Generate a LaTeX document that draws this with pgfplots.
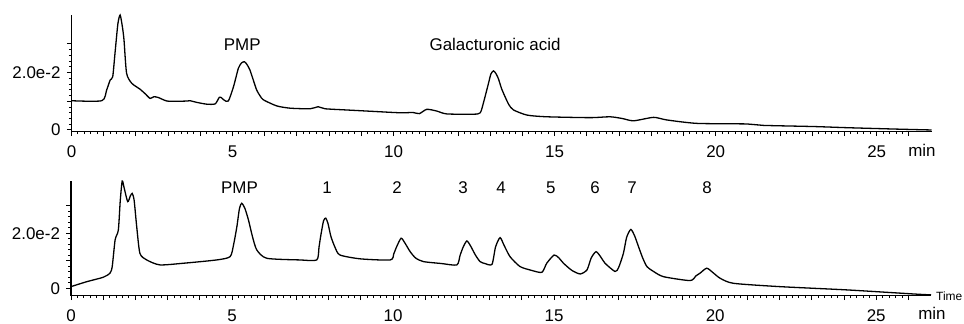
\documentclass[border=0pt]{standalone}
\usepackage{pgfplots}
\pgfplotsset{compat=1.18}
\usepackage{fontspec}
\setmainfont{Liberation Sans}

\pgfplotstableread{
t v
0 0.0102
0.94 0.0102
1.09 0.0139
1.20 0.0174
1.28 0.0186
1.35 0.0267
1.44 0.0370
1.51 0.0401
1.58 0.0360
1.63 0.0314
1.71 0.0198
1.87 0.0163
2.13 0.0142
2.30 0.0125
2.44 0.0110
2.56 0.0116
2.70 0.0113
2.96 0.0101
3.30 0.0100
3.58 0.0101
3.68 0.0102
3.90 0.0096
4.20 0.0090
4.46 0.0091
4.59 0.0114
4.66 0.0112
4.74 0.0104
4.87 0.0101
5.03 0.0151
5.18 0.0215
5.28 0.0234
5.37 0.0238
5.45 0.0228
5.54 0.0209
5.65 0.0172
5.75 0.0139
5.86 0.0118
5.96 0.0105
6.37 0.0084
6.79 0.0076
7.41 0.0074
7.66 0.0081
7.87 0.0074
8.50 0.0070
9.17 0.0066
10.2 0.0060
10.6 0.0061
10.8 0.0057
11.03 0.0072
11.34 0.0066
11.65 0.0056
12.48 0.0055
12.69 0.0060
12.79 0.0095
12.94 0.0160
13.02 0.0195
13.10 0.0206
13.17 0.0198
13.25 0.0180
13.35 0.0145
13.46 0.0116
13.58 0.0088
13.72 0.0070
14.14 0.0052
14.76 0.0046
16.1 0.0043
16.72 0.0046
17.1 0.0040
17.45 0.0032
18.07 0.0044
18.48 0.0035
19.42 0.0023
20.97 0.0021
21.48 0.0016
23.04 0.0012
24.07 0.0008
25.63 0.0003
26.7 0.0000
}\toptrace

\pgfplotstableread{
t v
0 0.0006
0.49 0.0024
1.0 0.0040
1.21 0.0055
1.28 0.0079
1.37 0.0176
1.47 0.0212
1.53 0.0320
1.59 0.0390
1.65 0.0365
1.76 0.0315
1.84 0.0335
1.90 0.0345
1.96 0.0320
2.04 0.0224
2.14 0.0127
2.35 0.0103
2.76 0.0085
3.49 0.0091
4.52 0.0103
4.94 0.0115
5.05 0.0160
5.15 0.0224
5.23 0.0290
5.30 0.0309
5.40 0.0290
5.51 0.0248
5.64 0.0185
5.77 0.0139
6.08 0.0109
7.11 0.0103
7.63 0.0103
7.70 0.0150
7.75 0.0188
7.84 0.0245
7.91 0.0255
7.98 0.0235
8.07 0.0188
8.20 0.0148
8.35 0.0121
8.98 0.0107
9.91 0.0103
10.02 0.0125
10.11 0.0151
10.25 0.0182
10.38 0.0162
10.53 0.0133
10.70 0.0110
10.94 0.0097
11.50 0.0090
11.98 0.0085
12.08 0.0120
12.18 0.0151
12.29 0.0172
12.40 0.0155
12.55 0.0122
12.70 0.0097
12.85 0.0090
13.07 0.0087
13.18 0.0150
13.32 0.0184
13.45 0.0155
13.63 0.0115
13.94 0.0079
14.30 0.0065
14.62 0.0058
14.77 0.0091
15.00 0.0121
15.15 0.0110
15.29 0.0091
15.55 0.0065
15.81 0.0052
16.02 0.0067
16.15 0.0110
16.30 0.0133
16.44 0.0115
16.58 0.0091
16.89 0.0061
17.00 0.0075
17.15 0.0127
17.25 0.0185
17.38 0.0214
17.50 0.0190
17.62 0.0151
17.75 0.0110
17.88 0.0079
18.10 0.0060
18.40 0.0042
19.22 0.0028
19.40 0.0045
19.53 0.0055
19.74 0.0073
19.95 0.0055
20.16 0.0036
20.57 0.0018
22.0 0.0006
24.1 -0.0006
26.2 -0.0021
26.7 -0.0024
}\bottomtrace

\begin{document}
\begin{tikzpicture}
\useasboundingbox (0,0) rectangle (964bp,324bp);
\pgfplotsset{
  chrom/.style={
    scale only axis,
    width=860bp,
    xmin=0, xmax=26.7,
    axis x line*=bottom, axis y line*=left,
    axis line style={line width=1.4bp, black},
    tick align=outside,
    xtick={0,1,...,26},
    xticklabels={0,,,,,5,,,,,10,,,,,15,,,,,20,,,,,25,},
    minor x tick num=4,
    ytick={0,0.01,0.02,0.03},
    yticklabels={0,,2.0e-2,},
    minor y tick num=4,
    major tick length=4.5bp,
    minor tick length=2.5bp,
    xtick style={black, line width=1bp},
    ytick style={black, line width=1bp},
    ticklabel style={font=\fontsize{17}{20}\selectfont},
    xticklabel style={yshift=-6bp},
    yticklabel style={xshift=-3bp},
    scaled y ticks=false,
    clip=false,
  },
  trace/.style={black, line width=1.3bp, smooth, tension=0.4, no markers},
}
\begin{axis}[chrom, at={(71.5bp,192.3bp)}, anchor=south west,
  height=116.7bp, ymin=-0.0006, ymax=0.0401]
\addplot[trace] table[x=t,y=v] {\toptrace};
\node[font=\fontsize{17}{20}\selectfont] at (axis cs:5.3,0.0297) {PMP};
\node[font=\fontsize{17}{20}\selectfont] at (axis cs:13.15,0.0297) {Galacturonic acid};
\end{axis}
\begin{axis}[chrom, at={(71bp,28.3bp)}, anchor=south west,
  height=114.7bp, ymin=-0.0027, ymax=0.039]
\addplot[trace] table[x=t,y=v] {\bottomtrace};
\foreach \px/\lab in {5.23/PMP,7.95/1,10.12/2,12.17/3,13.35/4,14.9/5,16.27/6,17.42/7,19.75/8}{
  \edef\tmp{\noexpand\node[font=\noexpand\fontsize{17}{20}\noexpand\selectfont] at (axis cs:\px,0.0365) {\lab};}
  \tmp
}
\end{axis}
\node[font=\fontsize{17}{20}\selectfont] at (922bp,174bp) {min};
\node[font=\fontsize{17}{20}\selectfont] at (932bp,11bp) {min};
\node[font=\fontsize{12}{14}\selectfont, anchor=west, inner sep=0pt] at (936bp,28bp) {Time};
\end{tikzpicture}
\end{document}
